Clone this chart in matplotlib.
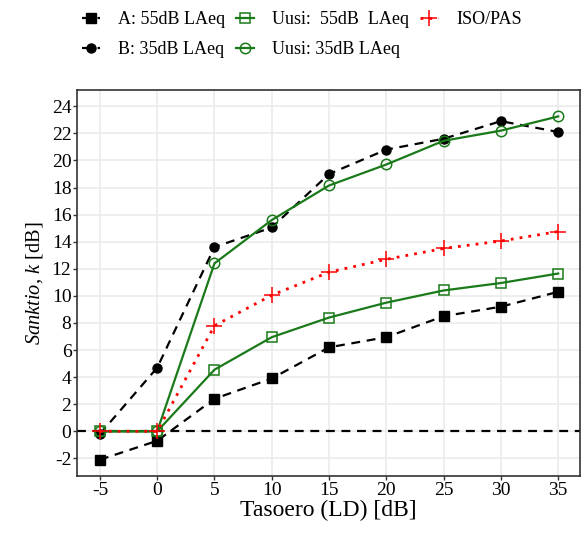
import matplotlib
matplotlib.use("Agg")
import matplotlib.pyplot as plt

x = [-5, 0, 5, 10, 15, 20, 25, 30, 35]
a_55 = [-2.1, -0.7, 2.4, 3.9, 6.2, 6.95, 8.5, 9.2, 10.3]
b_35 = [-0.2, 4.7, 13.6, 15.05, 19.0, 20.8, 21.6, 22.9, 22.1]
uusi_55 = [0.0, 0.0, 4.55, 6.95, 8.4, 9.5, 10.4, 10.95, 11.65]
uusi_35 = [0.0, 0.0, 12.4, 15.6, 18.15, 19.7, 21.45, 22.2, 23.25]
iso_pas = [0.0, 0.0, 7.8, 10.05, 11.75, 12.7, 13.5, 14.05, 14.75]

labels = ["A: 55dB LAeq", "B: 35dB LAeq", "Uusi:  55dB  LAeq",
          "Uusi: 35dB LAeq", "ISO/PAS"]
xticks = [-5, 0, 5, 10, 15, 20, 25, 30, 35]
yticks = list(range(-2, 25, 2))

plt.rcParams['font.family'] = ['Liberation Serif', 'DejaVu Serif']
plt.rcParams['mathtext.fontset'] = 'custom'
plt.rcParams['mathtext.rm'] = 'Liberation Serif'
plt.rcParams['mathtext.it'] = 'Liberation Serif:italic'
plt.rcParams['axes.unicode_minus'] = False

fig = plt.figure(figsize=(5.82, 5.36), dpi=100)
ax = fig.add_axes([77/582, 1-476/536, (580-77)/582, (476-90)/536])

green = '#1a7a1a'
ax.axhline(0, color='black', linestyle=(0, (4, 3)), linewidth=1.6, zorder=1)
l1, = ax.plot(x, a_55, color='black', linestyle=(0, (4, 3)), linewidth=1.6,
              marker='s', markersize=6.5, label=labels[0], zorder=3)
l2, = ax.plot(x, b_35, color='black', linestyle=(0, (4, 3)), linewidth=1.6,
              marker='o', markersize=6.5, label=labels[1], zorder=3)
l3, = ax.plot(x, uusi_55, color=green, linestyle='-', linewidth=1.6,
              marker='s', markersize=7, markerfacecolor='none',
              markeredgewidth=1.1, label=labels[2], zorder=4)
l4, = ax.plot(x, uusi_35, color=green, linestyle='-', linewidth=1.6,
              marker='o', markersize=7.5, markerfacecolor='none',
              markeredgewidth=1.1, label=labels[3], zorder=4)
l5, = ax.plot(x, iso_pas, color='#ff0000', linestyle=(0, (1, 2.2)), linewidth=2.0,
              marker='+', markersize=11, markeredgewidth=1.1,
              label=labels[4], zorder=5)

ax.set_xlim(-7, 36.9)
ax.set_ylim(-3.3, 25.2)
ax.set_xticks(xticks)
ax.set_yticks(yticks)
ax.grid(True, color='#ebebeb', linewidth=1.2, zorder=0)
ax.set_axisbelow(True)
for s in ax.spines.values():
    s.set_color('#333333')
    s.set_linewidth(1.2)
ax.tick_params(axis='both', labelsize=14, length=3, width=1.0, color='#333333',
               labelcolor='black', pad=1)

ax.set_xlabel("Tasoero (LD) [dB]", fontsize=17, labelpad=1)
ax.set_ylabel(r"$\it{Sanktio}$, $\it{k}$ [dB]", fontsize=14.7, labelpad=5)

fig.legend(handles=[l1, l2, l3, l4, l5], labels=labels, ncol=3,
           loc='upper left', bbox_to_anchor=(72/582, 1 - 1/536), frameon=False,
           fontsize=13, handlelength=1.0, handletextpad=1.0,
           columnspacing=0.6, labelspacing=0.75, borderaxespad=0.15)

fig.savefig("out.png", dpi=100)
